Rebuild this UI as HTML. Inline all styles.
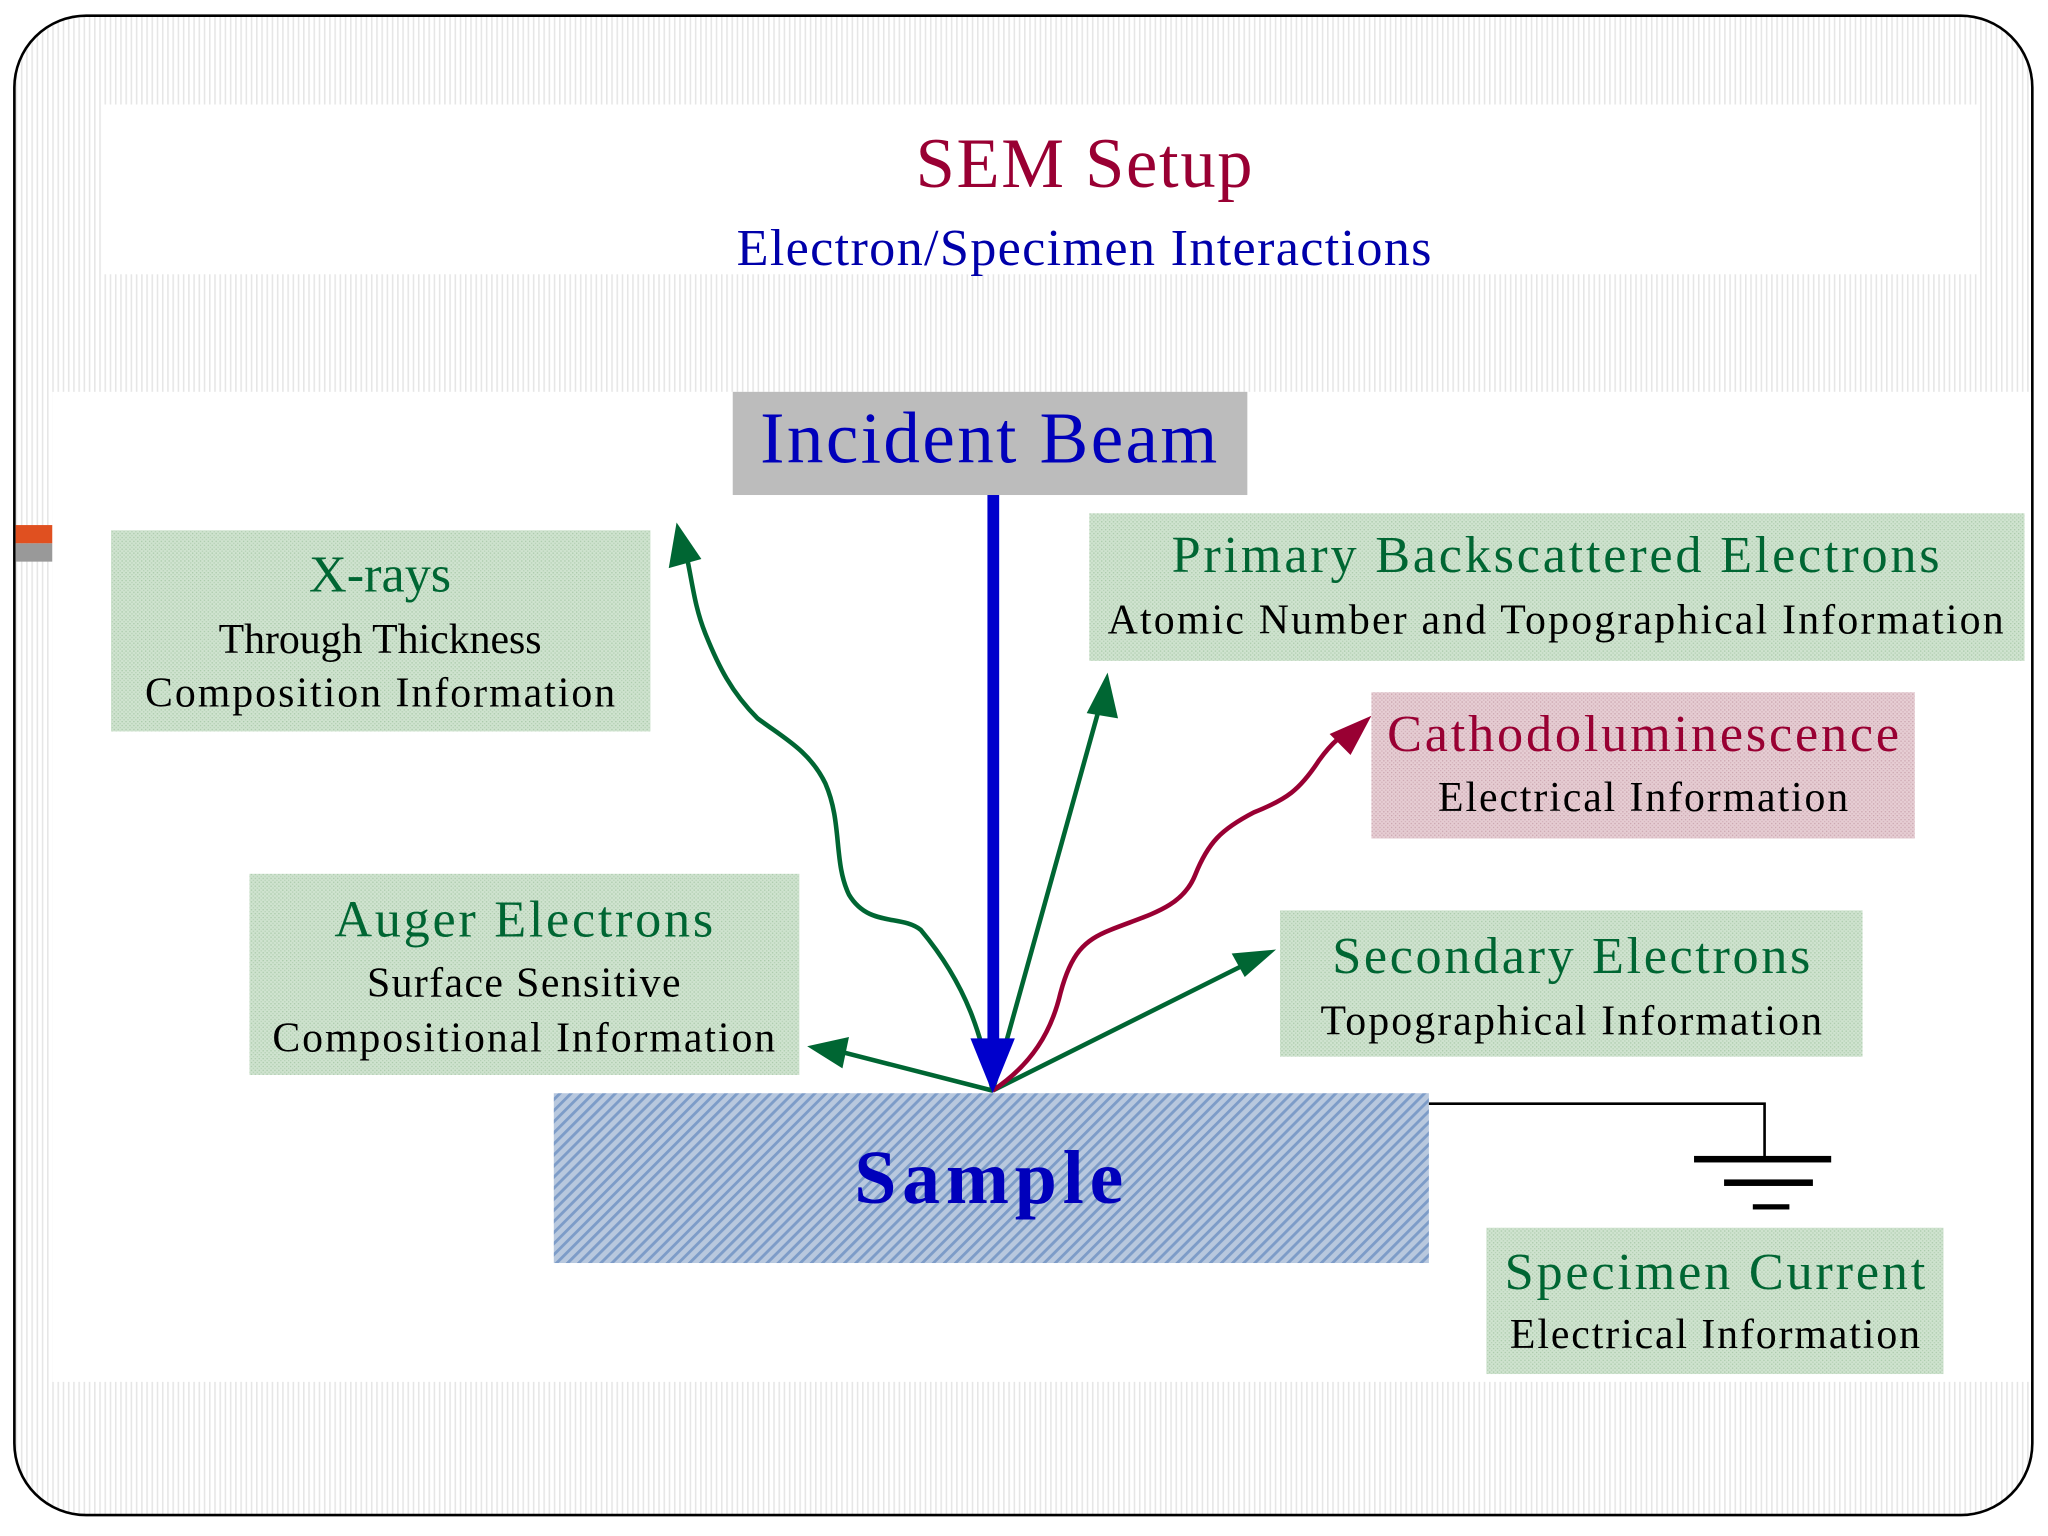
<!DOCTYPE html>
<html><head><meta charset="utf-8"><style>
html,body{margin:0;padding:0;background:#fff;width:2048px;height:1536px;overflow:hidden}
svg{display:block}
text{font-family:"Liberation Serif",serif}
</style></head><body>
<svg width="2048" height="1536" viewBox="0 0 1568 1176" xmlns="http://www.w3.org/2000/svg">
<defs>
<pattern id="vs" width="4" height="4" patternUnits="userSpaceOnUse"><rect width="4" height="4" fill="#fff"/><rect width="1.2" height="4" fill="#e6e6e6"/></pattern>
<pattern id="dg" width="3" height="3" patternUnits="userSpaceOnUse"><rect width="3" height="3" fill="#cfe3cf"/><rect width="1" height="1" fill="#a9c9a9"/><rect x="1.5" y="1.5" width="1" height="1" fill="#b5d0b5"/></pattern>
<pattern id="dr" width="3" height="3" patternUnits="userSpaceOnUse"><rect width="3" height="3" fill="#e6cdd3"/><rect width="1" height="1" fill="#c9a3ad"/><rect x="1.5" y="1.5" width="1" height="1" fill="#d2b0b9"/></pattern>
<pattern id="hb" width="6" height="6" patternUnits="userSpaceOnUse" patternTransform="rotate(45)"><rect width="6" height="6" fill="#b8c8de"/><rect width="2.2" height="6" fill="#7d9cc8"/></pattern>
</defs>
<rect x="11" y="12" width="1545" height="1148" rx="55" fill="url(#vs)" stroke="#000" stroke-width="2"/>
<rect x="80" y="80" width="1435" height="130" fill="#fff"/>
<rect x="40" y="300" width="1515" height="758" fill="#fff"/>
<rect x="12" y="402" width="28" height="14" fill="#e05020"/>
<rect x="12" y="416" width="28" height="14" fill="#999"/>
<text x="830" y="143" font-size="54" fill="#990033" text-anchor="middle" textLength="258">SEM Setup</text>
<text x="830" y="203" font-size="40" fill="#0000aa" text-anchor="middle" textLength="532">Electron/Specimen Interactions</text>

<rect x="561" y="300" width="394" height="79" fill="#bcbcbc"/>
<text x="757" y="354" font-size="56" fill="#0000bb" text-anchor="middle" textLength="350">Incident Beam</text>

<rect x="85" y="406" width="413" height="154" fill="url(#dg)"/>
<text x="291" y="453" font-size="40" fill="#006633" text-anchor="middle">X-rays</text>
<text x="291" y="500" font-size="32" text-anchor="middle">Through Thickness</text>
<text x="291" y="541" font-size="32" text-anchor="middle" textLength="360">Composition Information</text>

<rect x="834" y="393" width="716" height="113" fill="url(#dg)"/>
<text x="1191" y="438" font-size="40" fill="#006633" text-anchor="middle" textLength="588">Primary Backscattered Electrons</text>
<text x="1191" y="485" font-size="32" text-anchor="middle" textLength="686">Atomic Number and Topographical Information</text>

<rect x="1050" y="530" width="416" height="112" fill="url(#dr)"/>
<text x="1258" y="575" font-size="40" fill="#990033" text-anchor="middle" textLength="392">Cathodoluminescence</text>
<text x="1258" y="621" font-size="32" text-anchor="middle" textLength="314">Electrical Information</text>

<rect x="191" y="669" width="421" height="154" fill="url(#dg)"/>
<text x="401" y="717" font-size="40" fill="#006633" text-anchor="middle" textLength="290">Auger Electrons</text>
<text x="401" y="763" font-size="32" text-anchor="middle" textLength="240">Surface Sensitive</text>
<text x="401" y="805" font-size="32" text-anchor="middle" textLength="385">Compositional Information</text>

<rect x="980" y="697" width="446" height="112" fill="url(#dg)"/>
<text x="1203" y="745" font-size="40" fill="#006633" text-anchor="middle" textLength="366">Secondary Electrons</text>
<text x="1203" y="792" font-size="32" text-anchor="middle" textLength="384">Topographical Information</text>

<rect x="424" y="837" width="670" height="130" fill="url(#hb)"/>
<text x="757" y="921" font-size="58" fill="#0000bb" font-weight="bold" text-anchor="middle" textLength="206">Sample</text>

<path d="M1094,845 H1351 V887" fill="none" stroke="#000" stroke-width="2"/>
<rect x="1297" y="885" width="105" height="5" fill="#000"/>
<rect x="1320" y="903" width="68" height="5" fill="#000"/>
<rect x="1342" y="922" width="28" height="4" fill="#000"/>

<rect x="1138" y="940" width="350" height="112" fill="url(#dg)"/>
<text x="1313" y="987" font-size="40" fill="#006633" text-anchor="middle" textLength="322">Specimen Current</text>
<text x="1313" y="1032" font-size="32" text-anchor="middle" textLength="314">Electrical Information</text>

<g fill="none" stroke-width="3.5">
<path d="M760,835 C752,800 745,760 705,712 C690,700 665,710 650,685 C638,660 645,630 632,600 C620,575 600,565 580,550 C560,530 550,510 540,485 C530,460 530,440 522,410" stroke="#006633"/>
<path d="M760,835 L845,530" stroke="#006633"/>
<path d="M760,835 L960,735" stroke="#006633"/>
<path d="M760,835 L635,803" stroke="#006633"/>
<path d="M760,835 C790,815 805,790 812,760 C820,730 830,720 850,712 C880,700 905,695 915,670 C925,645 935,635 960,622 C985,612 995,605 1010,582 C1020,568 1028,562 1040,555" stroke="#990033"/>
</g>
<path d="M518,400 L512,435 L537,428 z" fill="#006633"/>
<path d="M848,515 L832,546 L856,550 z" fill="#006633"/>
<path d="M977,727 L943,730 L953,748 z" fill="#006633"/>
<path d="M618,801 L650,794 L645,818 z" fill="#006633"/>
<path d="M1050,548 L1018,562 L1034,578 z" fill="#990033"/>
<rect x="756" y="379" width="9" height="420" fill="#0000cc"/>
<path d="M743,795 L777,795 L760,837 z" fill="#0000cc"/>
</svg>
</body></html>
